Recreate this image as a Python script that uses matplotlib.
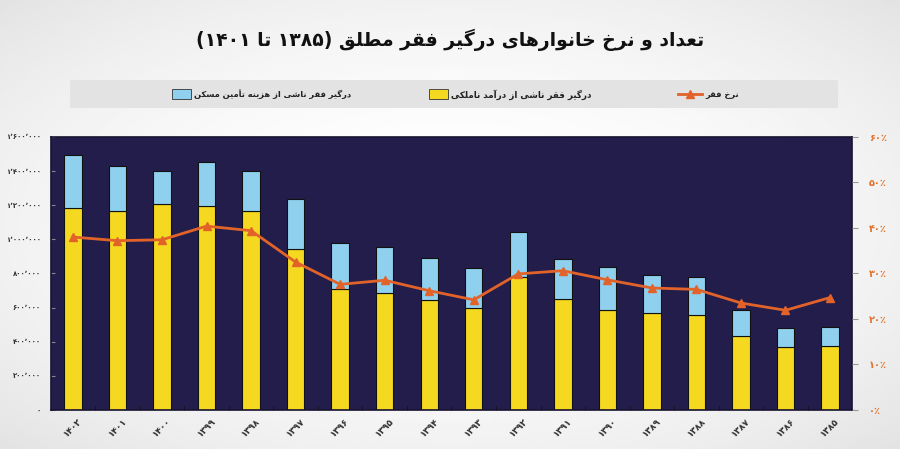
import re
import numpy as np
import matplotlib
matplotlib.use('Agg')
import matplotlib.pyplot as plt
from matplotlib.patches import Rectangle
from matplotlib.lines import Line2D
from matplotlib.ticker import FuncFormatter, FixedLocator

plt.rcParams['font.family'] = ['DejaVu Sans']

# data (left to right)
years = ['۱۴۰۲', '۱۴۰۱', '۱۴۰۰', '۱۳۹۹', '۱۳۹۸', '۱۳۹۷', '۱۳۹۶', '۱۳۹۵', '۱۳۹۴',
         '۱۳۹۳', '۱۳۹۲', '۱۳۹۱', '۱۳۹۰', '۱۳۸۹', '۱۳۸۸', '۱۳۸۷', '۱۳۸۶', '۱۳۸۵']
income_poor = [1184000, 1164000, 1205000, 1195000, 1164000, 942000, 707000, 683000, 646000,
               596000, 781000, 652000, 588000, 566000, 559000, 436000, 366000, 372000]
housing_poor = [309000, 263000, 198000, 261000, 239000, 292000, 272000, 273000, 247000,
                237000, 264000, 230000, 247000, 226000, 222000, 148000, 113000, 113000]
poverty_rate = [38.0, 37.2, 37.4, 40.4, 39.4, 32.5, 27.6, 28.5, 26.2,
                24.2, 29.9, 30.6, 28.6, 26.8, 26.5, 23.5, 21.9, 24.7]

title = 'تعداد و نرخ خانوارهای درگیر فقر مطلق (۱۳۸۵ تا ۱۴۰۱)'
lbl_housing = 'درگیر فقر ناشی از هزینه تأمین مسکن'
lbl_income = 'درگیر فقر ناشی از درآمد ناملکی'
lbl_rate = 'نرخ فقر'

# matplotlib has no arabic shaping, so pick presentation forms by hand
# (isolated, final, initial, medial)
FORMS = {
    'ا': ('\uFE8D', '\uFE8E', None, None),
    'آ': ('\uFE81', '\uFE82', None, None),
    'أ': ('\uFE83', '\uFE84', None, None),
    'ب': ('\uFE8F', '\uFE90', '\uFE91', '\uFE92'),
    'پ': ('\uFB56', '\uFB57', '\uFB58', '\uFB59'),
    'ت': ('\uFE95', '\uFE96', '\uFE97', '\uFE98'),
    'خ': ('\uFEA5', '\uFEA6', '\uFEA7', '\uFEA8'),
    'د': ('\uFEA9', '\uFEAA', None, None),
    'ر': ('\uFEAD', '\uFEAE', None, None),
    'ز': ('\uFEAF', '\uFEB0', None, None),
    'س': ('\uFEB1', '\uFEB2', '\uFEB3', '\uFEB4'),
    'ش': ('\uFEB5', '\uFEB6', '\uFEB7', '\uFEB8'),
    'ط': ('\uFEC1', '\uFEC2', '\uFEC3', '\uFEC4'),
    'ع': ('\uFEC9', '\uFECA', '\uFECB', '\uFECC'),
    'ف': ('\uFED1', '\uFED2', '\uFED3', '\uFED4'),
    'ق': ('\uFED5', '\uFED6', '\uFED7', '\uFED8'),
    'ک': ('\uFB8E', '\uFB8F', '\uFB90', '\uFB91'),
    'گ': ('\uFB92', '\uFB93', '\uFB94', '\uFB95'),
    'ل': ('\uFEDD', '\uFEDE', '\uFEDF', '\uFEE0'),
    'م': ('\uFEE1', '\uFEE2', '\uFEE3', '\uFEE4'),
    'ن': ('\uFEE5', '\uFEE6', '\uFEE7', '\uFEE8'),
    'ه': ('\uFEE9', '\uFEEA', '\uFEEB', '\uFEEC'),
    'و': ('\uFEED', '\uFEEE', None, None),
    'ی': ('\uFBFC', '\uFBFD', '\uFBFE', '\uFBFF'),
}


def rtl(s):
    out = []
    for i, c in enumerate(s):
        if c not in FORMS:
            out.append(c)
            continue
        prev = s[i - 1] if i > 0 else ''
        nxt = s[i + 1] if i + 1 < len(s) else ''
        jp = prev in FORMS and FORMS[prev][2] is not None
        jn = nxt in FORMS and FORMS[c][2] is not None
        if jp and jn:
            out.append(FORMS[c][3])
        elif jp:
            out.append(FORMS[c][1])
        elif jn:
            out.append(FORMS[c][2])
        else:
            out.append(FORMS[c][0])
    v = ''.join(out)[::-1]
    v = re.sub(r'[۰-۹٬]+', lambda m: m.group(0)[::-1], v)
    return v.translate(str.maketrans('()', ')('))


def fa_digits(s):
    return s.translate(str.maketrans('0123456789,', '۰۱۲۳۴۵۶۷۸۹٬'))


yellow = '#f5d820'
blue = '#8fd0ef'
orange = '#e2632a'
navy = '#231d4b'

fig = plt.figure(figsize=(9, 4.49), dpi=100)

# soft grey-to-white background
bg = fig.add_axes([0, 0, 1, 1], zorder=-10)
gx, gy = np.meshgrid(np.linspace(-1, 1, 300), np.linspace(-1, 1, 150))
shade = 1 - 0.11 * np.clip((gx**2 + gy**2) / 2, 0, 1)
bg.imshow(shade, cmap='gray', vmin=0, vmax=1, aspect='auto', extent=[0, 1, 0, 1])
bg.axis('off')

ax = fig.add_axes([0.0563, 0.087, 0.8907, 0.608])
ax.set_facecolor(navy)
x = np.arange(len(years))
w = 0.39
ax.bar(x, income_poor, w, color=yellow, edgecolor='#111111', linewidth=0.8, zorder=2)
ax.bar(x, housing_poor, w, bottom=income_poor, color=blue, edgecolor='#111111',
       linewidth=0.8, zorder=2)

ax.set_xlim(-0.5, len(years) - 0.5)
ax.set_ylim(0, 1600000)
ax.set_yticks(np.arange(0, 1600001, 200000))
ax.yaxis.set_major_formatter(FuncFormatter(lambda v, p: fa_digits(f'{int(v):,}')))
ax.tick_params(axis='y', direction='in', length=3, color='#888888', labelsize=5,
               labelcolor='#333333', pad=7)
for t in ax.get_yticklabels():
    t.set_fontweight('bold')

ax.set_xticks(x)
ax.set_xticklabels(years, rotation=45, ha='center', fontsize=6.5, fontweight='bold',
                   color='#333333')
ax.tick_params(axis='x', length=0, pad=5)
ax.xaxis.set_minor_locator(FixedLocator(x[:-1] + 0.5))
ax.tick_params(axis='x', which='minor', direction='in', length=3, color='#111111')
for s in ax.spines.values():
    s.set_color('#17132f')
    s.set_linewidth(1.2)

ax2 = ax.twinx()
ax2.plot(x, poverty_rate, color=orange, lw=2, marker='^', markersize=6, zorder=5)
ax2.set_ylim(0, 60)
ax2.set_yticks(np.arange(0, 61, 10))
ax2.yaxis.set_major_formatter(FuncFormatter(lambda v, p: fa_digits(f'{int(v)}') + '٪'))
ax2.tick_params(axis='y', direction='out', length=4, color='#999999', labelsize=7,
                labelcolor='#e2722c', pad=8)
for t in ax2.get_yticklabels():
    t.set_fontweight('bold')
for s in ax2.spines.values():
    s.set_visible(False)

# legend band drawn by hand (right-to-left layout)
fig.patches.append(Rectangle((0.078, 0.759), 0.853, 0.063, transform=fig.transFigure,
                             facecolor='#e3e3e3', edgecolor='none', zorder=1))
ly = 0.79
fig.patches.append(Rectangle((0.191, ly - 0.011), 0.021, 0.022, transform=fig.transFigure,
                             facecolor=blue, edgecolor='#333333', lw=0.6, zorder=2))
fig.text(0.215, ly, rtl(lbl_housing), fontsize=6, fontweight='bold', color='#222222',
         va='center', ha='left')
fig.patches.append(Rectangle((0.477, ly - 0.011), 0.021, 0.022, transform=fig.transFigure,
                             facecolor=yellow, edgecolor='#333333', lw=0.6, zorder=2))
fig.text(0.501, ly, rtl(lbl_income), fontsize=6.3, fontweight='bold', color='#222222',
         va='center', ha='left')
fig.lines.append(Line2D([0.753, 0.780], [ly, ly], transform=fig.transFigure, color=orange,
                        lw=2, zorder=2))
fig.lines.append(Line2D([0.7665], [ly], transform=fig.transFigure, color=orange,
                        marker='^', markersize=6, zorder=3))
fig.text(0.784, ly, rtl(lbl_rate), fontsize=6, fontweight='bold', color='#222222',
         va='center', ha='left')

fig.text(0.5, 0.912, rtl(title), ha='center', va='center', fontsize=13.5,
         fontweight='bold', color='#111111')

fig.savefig('out.png', dpi=100)
